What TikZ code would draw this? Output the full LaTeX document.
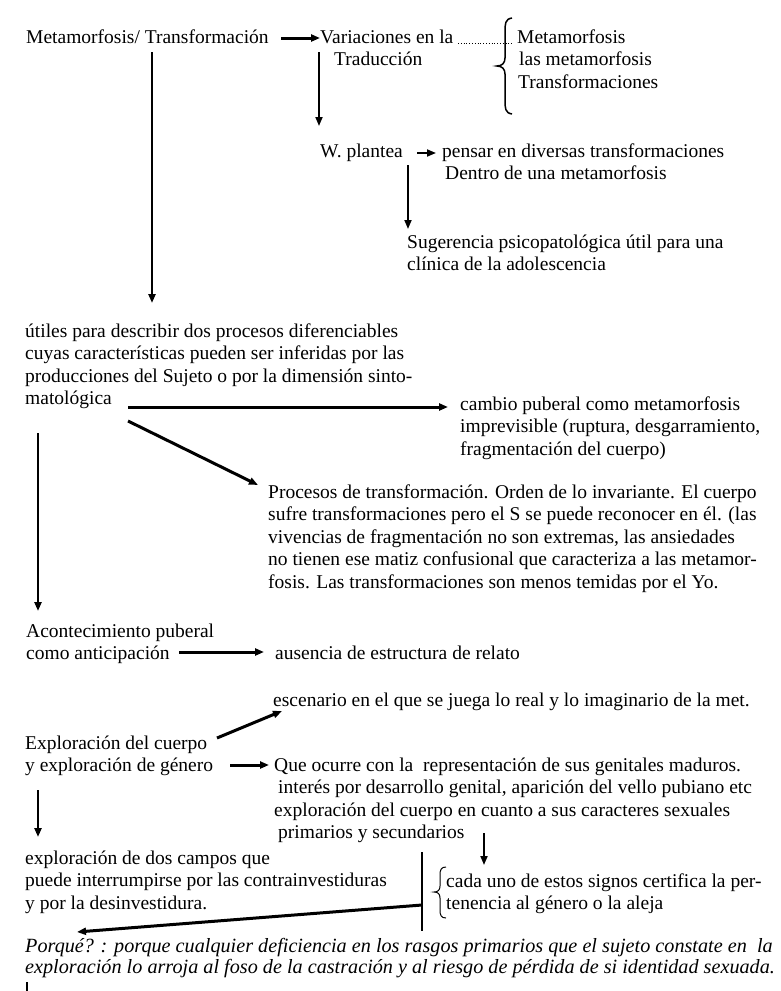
\documentclass[tikz,border=0pt]{standalone}
\usepackage{fontspec}
\setmainfont{Liberation Serif}
\usetikzlibrary{arrows.meta}
\begin{document}
\begin{tikzpicture}[x=1pt,y=-1pt,
  txt/.style={anchor=north west,inner sep=0pt,align=left,font=\fontsize{19.5}{22.5}\selectfont},
  itx/.style={anchor=north west,inner sep=0pt,align=left,font=\fontsize{20.2}{21}\selectfont\itshape},
  arr/.style={-{Triangle[length=9pt,width=7pt]},line width=2.2pt},
  tarr/.style={-{Triangle[length=9pt,width=7pt]},line width=3pt},
  brc/.style={line width=1.5pt}]
\useasboundingbox (0,0) rectangle (780,991);
% text blocks
\node[txt] (meta) at (26,27.25) {\strut Metamorfosis/ Transformación};
\node[txt] (var) at (320,27.25) {\strut Variaciones en la\\\hspace*{14pt}Traducción};
\node[txt] (list) at (517,27.25) {\strut Metamorfosis\\\hspace*{2pt}las metamorfosis\\\hspace*{1pt}Transformaciones};
\node[txt] (wpl) at (320,141.25) {\strut W. plantea};
\node[txt] (pens) at (442,141.25) {\strut pensar en diversas transformaciones\\\hspace*{3pt}Dentro de una metamorfosis};
\node[txt] (sug) at (407,232.25) {\strut Sugerencia psicopatológica útil para una\\clínica de la adolescencia};
\node[txt] (util) at (25,321.25) {\strut útiles para describir dos procesos diferenciables\\cuyas características pueden ser inferidas por las\\producciones del Sujeto o por la dimensión sinto-\\matológica};
\node[txt] (cambio) at (460,394.25) {\strut cambio puberal como metamorfosis\\imprevisible (ruptura, desgarramiento,\\fragmentación del cuerpo)};
\node[txt] (proc) at (268,482.25) {\strut Procesos de transformación. Orden de lo invariante. El cuerpo\\sufre transformaciones pero el S se puede reconocer en él. (las\\vivencias de fragmentación no son extremas, las ansiedades\\no tienen ese matiz confusional que caracteriza a las metamor-\\fosis. Las transformaciones son menos temidas por el Yo.};
\node[txt] (acon) at (26,621.25) {\strut Acontecimiento puberal\\como anticipación};
\node[txt] (aus) at (275,643.25) {\strut ausencia de estructura de relato};
\node[txt] (esc) at (273,690.25) {\strut escenario en el que se juega lo real y lo imaginario de la met.};
\node[txt] (expl) at (25,733.25) {\strut Exploración del cuerpo\\y exploración de género};
\node[txt] (que) at (274,755.25) {\strut Que ocurre con la\ \ representación de sus genitales maduros.\\\hspace*{4pt}interés por desarrollo genital, aparición del vello pubiano etc\\exploración del cuerpo en cuanto a sus caracteres sexuales\\\hspace*{4pt}primarios y secundarios};
\node[txt] (dos) at (25,848.25) {\strut exploración de dos campos que\\puede interrumpirse por las contrainvestiduras\\y por la desinvestidura.};
\node[txt] (cada) at (446,871.25) {\strut cada uno de estos signos certifica la per-\\tenencia al género o la aleja};
\node[itx] (porq) at (25,937.25) {\strut Porqué? : porque cualquier deficiencia en los rasgos primarios que el sujeto constate en\ \ la\\exploración lo arroja al foso de la castración y al riesgo de pérdida de si identidad sexuada.};
% connector end points
\coordinate (a1s) at (281,38);  \coordinate (a1e) at (320,38);
\coordinate (a2s) at (152,52);  \coordinate (a2e) at (152,303);
\coordinate (a3s) at (319,52);  \coordinate (a3e) at (319,126);
\coordinate (a4s) at (417,153); \coordinate (a4e) at (436,153);
\coordinate (a5s) at (408,165); \coordinate (a5e) at (408,229);
\coordinate (a6s) at (128,407); \coordinate (a6e) at (448,407);
\coordinate (a7s) at (128,421); \coordinate (a7e) at (258,485);
\coordinate (a8s) at (38,433);  \coordinate (a8e) at (38,611);
\coordinate (a9s) at (179,652); \coordinate (a9e) at (264,652);
\coordinate (a10s) at (217,738); \coordinate (a10e) at (282,711);
\coordinate (a11s) at (230,765); \coordinate (a11e) at (269,765);
\coordinate (a12s) at (38,790); \coordinate (a12e) at (38,837);
\coordinate (a13s) at (484,833); \coordinate (a13e) at (484,865);
\coordinate (vt) at (422,852); \coordinate (vb) at (422,931);
\coordinate (a14s) at (422,905); \coordinate (a14e) at (77,932);
\coordinate (dots) at (458,43); \coordinate (dote) at (513,43);
\coordinate (cur1) at (27,982); \coordinate (cur2) at (27,991);
% connectors
\draw[tarr] (a1s) -- (a1e);
\draw[arr] (a2s) -- (a2e);
\draw[arr,line width=1.8pt] (a3s) -- (a3e);
\draw[arr,line width=1.8pt] (a4s) -- (a4e);
\draw[arr,line width=1.8pt] (a5s) -- (a5e);
\draw[tarr] (a6s) -- (a6e);
\draw[tarr] (a7s) -- (a7e);
\draw[arr] (a8s) -- (a8e);
\draw[tarr] (a9s) -- (a9e);
\draw[tarr] (a10s) -- (a10e);
\draw[tarr] (a11s) -- (a11e);
\draw[arr] (a12s) -- (a12e);
\draw[arr,line width=1.8pt] (a13s) -- (a13e);
\draw[line width=2.6pt] (vt) -- (vb);
\draw[tarr] (a14s) -- (a14e);
\draw[dotted,line width=0.8pt] (dots) -- (dote);
\draw[line width=2.2pt] (cur1) -- (cur2);
% braces
\draw[brc] (512,18) .. controls (505,19) and (505,24) .. (505,32) -- (505,58)
  .. controls (505,63) and (502,66) .. (497,66)
  .. controls (502,66) and (505,69) .. (505,74) -- (505,100)
  .. controls (505,108) and (505,113) .. (512,114);
\draw[brc,line width=1pt] (446,867) .. controls (441,867) and (440,870) .. (440,875) -- (440,886)
  .. controls (440,890) and (438,892) .. (434,892)
  .. controls (438,892) and (440,894) .. (440,898) -- (440,910)
  .. controls (440,915) and (441,918) .. (446,918);
\end{tikzpicture}
\end{document}
